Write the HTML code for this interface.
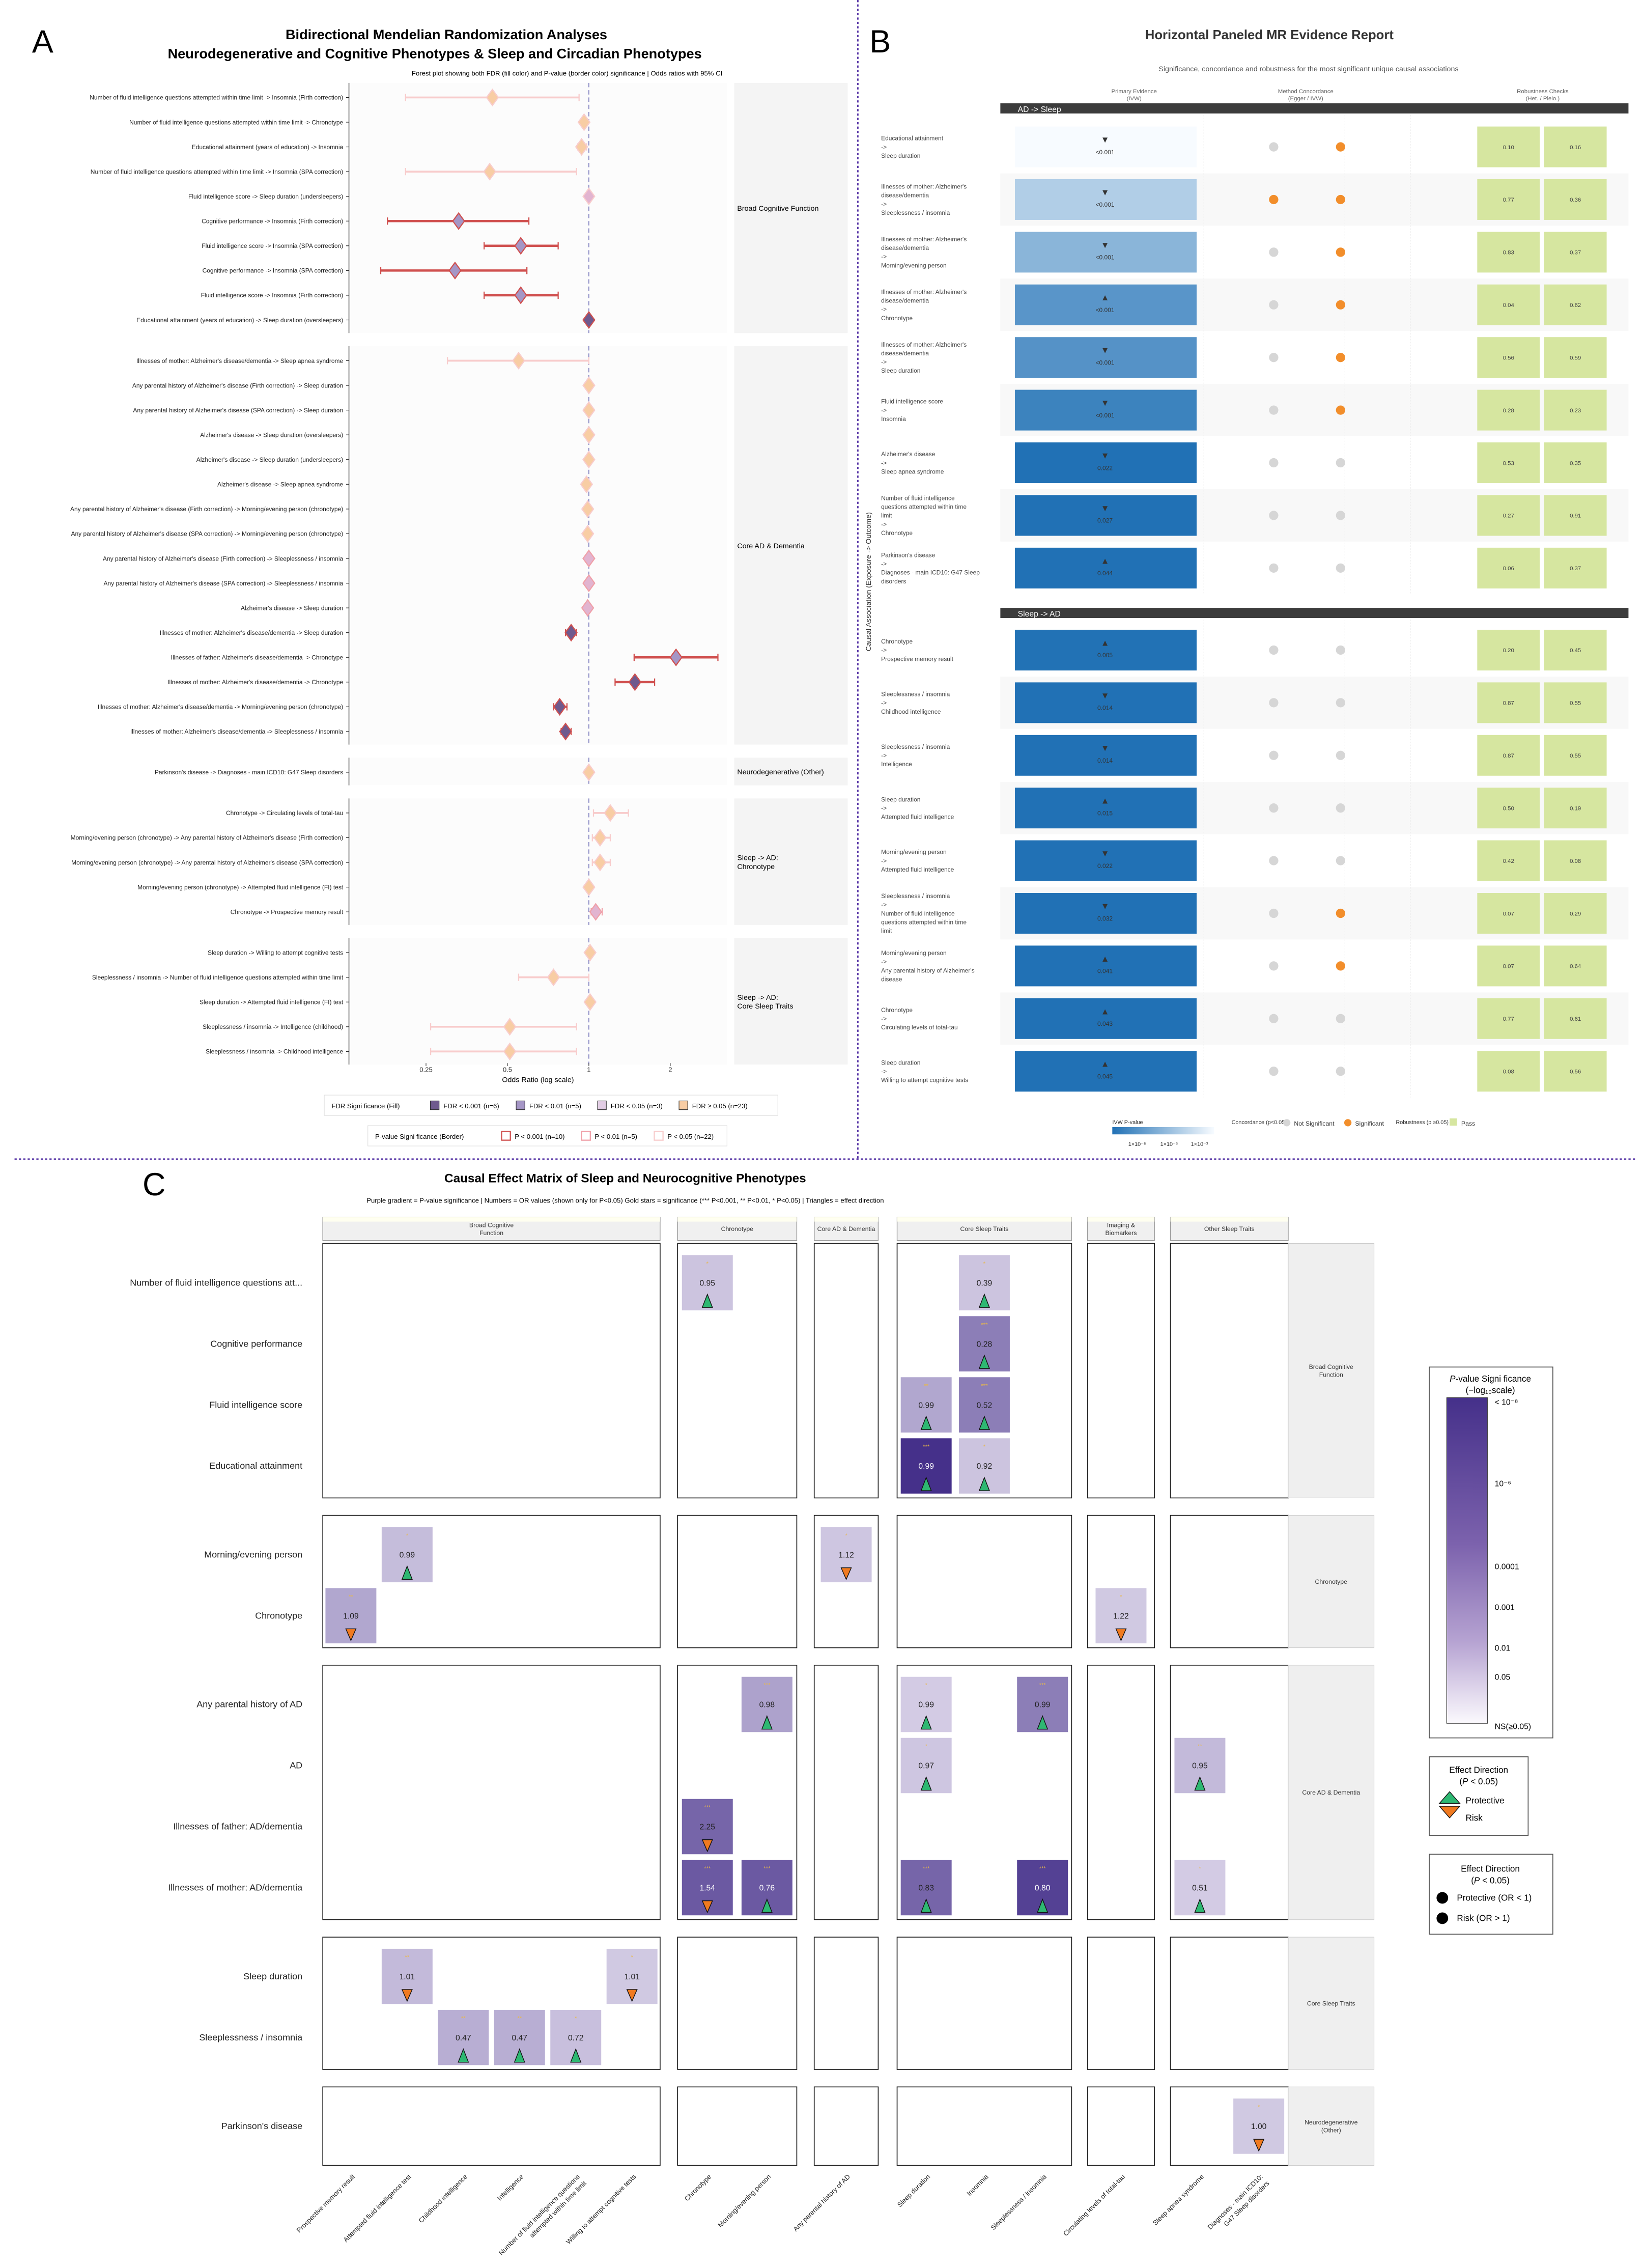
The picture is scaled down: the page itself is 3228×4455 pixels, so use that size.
<!DOCTYPE html>
<html><head><meta charset="utf-8">
<style>
html,body{margin:0;padding:0;background:#fff}
svg{display:block;font-family:"Liberation Sans",sans-serif}
</style></head>
<body>
<svg id="fig" width="3228" height="4455" viewBox="0 0 1130 1559.5" xmlns="http://www.w3.org/2000/svg">
<defs>
<linearGradient id="gradC" x1="0" y1="0" x2="0" y2="1"><stop offset="0" stop-color="#45308a"/><stop offset="0.45" stop-color="#7c62ad"/><stop offset="0.75" stop-color="#b6a3d2"/><stop offset="1" stop-color="#fbf9fd"/></linearGradient>
<linearGradient id="gradB" x1="0" y1="0" x2="1" y2="0"><stop offset="0" stop-color="#2171b5"/><stop offset="1" stop-color="#f7fbff"/></linearGradient>
<clipPath id="clipAD"><rect x="560" y="837" width="44" height="16"/></clipPath>
</defs>
<g id="panelA">
<text x="22" y="36" font-size="22">A</text>
<text x="307" y="27" font-size="9.5" font-weight="bold" text-anchor="middle">Bidirectional Mendelian Randomization Analyses</text>
<text x="299" y="40" font-size="9.5" font-weight="bold" text-anchor="middle">Neurodegenerative and Cognitive Phenotypes &amp; Sleep and Circadian Phenotypes</text>
<text x="390" y="52" font-size="4.6" text-anchor="middle">Forest plot showing both FDR (fill color) and P-value (border color) significance | Odds ratios with 95% CI</text>
<text x="370" y="744" font-size="5" text-anchor="middle">Odds Ratio (log scale)</text>
<g>
<rect x="223" y="753" width="312" height="14" fill="#fff" stroke="#ddd" stroke-width="0.4"/>
<text x="228" y="762" font-size="4.6">FDR Signi ficance (Fill)</text>
<rect x="296" y="757" width="6" height="6" fill="#6f5a8e" stroke="#333" stroke-width="0.4"/><text x="305" y="762" font-size="4.6">FDR &lt; 0.001 (n=6)</text>
<rect x="355" y="757" width="6" height="6" fill="#a596c6" stroke="#333" stroke-width="0.4"/><text x="364" y="762" font-size="4.6">FDR &lt; 0.01 (n=5)</text>
<rect x="411" y="757" width="6" height="6" fill="#e2cde4" stroke="#333" stroke-width="0.4"/><text x="420" y="762" font-size="4.6">FDR &lt; 0.05 (n=3)</text>
<rect x="467" y="757" width="6" height="6" fill="#f8cda4" stroke="#333" stroke-width="0.4"/><text x="476" y="762" font-size="4.6">FDR ≥ 0.05 (n=23)</text>
</g>
<g>
<rect x="253" y="774" width="247" height="14" fill="#fff" stroke="#ddd" stroke-width="0.4"/>
<text x="258" y="783" font-size="4.6">P-value Signi ficance (Border)</text>
<rect x="345" y="778" width="6" height="6" fill="#fff" stroke="#d0504f" stroke-width="0.8"/><text x="354" y="783" font-size="4.6">P &lt; 0.001 (n=10)</text>
<rect x="400" y="778" width="6" height="6" fill="#fff" stroke="#f0a0a8" stroke-width="0.8"/><text x="409" y="783" font-size="4.6">P &lt; 0.01 (n=5)</text>
<rect x="450" y="778" width="6" height="6" fill="#fff" stroke="#f8cccc" stroke-width="0.8"/><text x="459" y="783" font-size="4.6">P &lt; 0.05 (n=22)</text>
</g>
</g>
<line x1="590" y1="0" x2="590" y2="797" stroke="#5b3aa8" stroke-width="1" stroke-dasharray="1.5,1.5"/>
<line x1="10" y1="797" x2="1125" y2="797" stroke="#5b3aa8" stroke-width="1" stroke-dasharray="1.5,1.5"/>
<g id="panelB">
<text x="598" y="36" font-size="22">B</text>
<text x="873" y="27" font-size="9" font-weight="bold" text-anchor="middle" fill="#333">Horizontal Paneled MR Evidence Report</text>
<text x="900" y="49" font-size="5" text-anchor="middle" fill="#555">Significance, concordance and robustness for the most significant unique causal associations</text>
<text x="780" y="64" font-size="4" text-anchor="middle" fill="#666">Primary Evidence</text>
<text x="780" y="69" font-size="4" text-anchor="middle" fill="#666">(IVW)</text>
<text x="898" y="64" font-size="4" text-anchor="middle" fill="#666">Method Concordance</text>
<text x="898" y="69" font-size="4" text-anchor="middle" fill="#666">(Egger / IVW)</text>
<text x="1061" y="64" font-size="4" text-anchor="middle" fill="#666">Robustness Checks</text>
<text x="1061" y="69" font-size="4" text-anchor="middle" fill="#666">(Het. / Pleio.)</text>
<text transform="translate(599,400) rotate(-90)" font-size="5" text-anchor="middle" fill="#333">Causal Association (Exposure -&gt; Outcome)</text>
<g>
<text x="765" y="773" font-size="3.8" fill="#333">IVW P-value</text>
<rect x="765" y="775" width="70" height="5" fill="url(#gradB)"/>
<text x="776" y="788" font-size="3.8" fill="#333">1×10⁻⁸</text><text x="798" y="788" font-size="3.8" fill="#333">1×10⁻⁵</text><text x="819" y="788" font-size="3.8" fill="#333">1×10⁻³</text>
<text x="847" y="773" font-size="3.8" fill="#333">Concordance (p&lt;0.05)</text>
<circle cx="885" cy="772" r="2.5" fill="#d6d6d6"/><text x="890" y="774" font-size="4.3" fill="#333">Not Significant</text>
<circle cx="927" cy="772" r="2.5" fill="#f28e2b"/><text x="932" y="774" font-size="4.3" fill="#333">Significant</text>
<text x="960" y="773" font-size="3.8" fill="#333">Robustness (p ≥0.05)</text>
<rect x="997" y="769" width="5" height="5" fill="#d6e6a0"/><text x="1005" y="774" font-size="4.3" fill="#333">Pass</text>
</g>
</g>
<g id="panelC">
<text x="98" y="822" font-size="22">C</text>
<text x="430" y="813" font-size="8.5" font-weight="bold" text-anchor="middle">Causal Effect Matrix of Sleep and Neurocognitive Phenotypes</text>
<text x="430" y="827" font-size="4.6" text-anchor="middle">Purple gradient = P-value significance | Numbers = OR values (shown only for P&lt;0.05)   Gold stars = significance (*** P&lt;0.001, ** P&lt;0.01, * P&lt;0.05) | Triangles = effect direction</text>
<g>
<rect x="983" y="940" width="85" height="255" fill="#fff" stroke="#555" stroke-width="0.6"/>
<text x="1025" y="950" font-size="6" text-anchor="middle"><tspan font-style="italic">P</tspan>-value Signi ficance</text>
<text x="1025" y="958" font-size="6" text-anchor="middle">(−log₁₀scale)</text>
<rect x="995" y="961" width="28" height="224" fill="url(#gradC)" stroke="#333" stroke-width="0.4"/>
<text x="1028" y="966" font-size="5.5">&lt; 10⁻⁸</text>
<text x="1028" y="1022" font-size="5.5">10⁻⁶</text>
<text x="1028" y="1079" font-size="5.5">0.0001</text>
<text x="1028" y="1107" font-size="5.5">0.001</text>
<text x="1028" y="1135" font-size="5.5">0.01</text>
<text x="1028" y="1155" font-size="5.5">0.05</text>
<text x="1028" y="1189" font-size="5.5">NS(≥0.05)</text>
</g>
<g>
<rect x="983" y="1208" width="68" height="54" fill="#fff" stroke="#555" stroke-width="0.6"/>
<text x="1017" y="1219" font-size="6" text-anchor="middle">Effect Direction</text>
<text x="1017" y="1227" font-size="6" text-anchor="middle">(<tspan font-style="italic">P</tspan> &lt; 0.05)</text>
<polygon points="997,1232 1004,1240 990,1240" fill="#2eb872" stroke="#111" stroke-width="0.5"/>
<text x="1008" y="1240" font-size="6">Protective</text>
<polygon points="990,1242 1004,1242 997,1250" fill="#f07a20" stroke="#111" stroke-width="0.5"/>
<text x="1008" y="1252" font-size="6">Risk</text>
</g>
<g>
<rect x="983" y="1275" width="85" height="55" fill="#fff" stroke="#555" stroke-width="0.6"/>
<text x="1025" y="1287" font-size="6" text-anchor="middle">Effect Direction</text>
<text x="1025" y="1295" font-size="6" text-anchor="middle">(<tspan font-style="italic">P</tspan> &lt; 0.05)</text>
<circle cx="992" cy="1305" r="4" fill="#000"/><text x="1002" y="1307" font-size="6">Protective (OR &lt; 1)</text>
<circle cx="992" cy="1319" r="4" fill="#000"/><text x="1002" y="1321" font-size="6">Risk (OR &gt; 1)</text>
</g>
</g>
</svg>
<script>
const NS='http://www.w3.org/2000/svg';
const svg=document.getElementById('fig');
function mk(tag,attrs,parent,text){const e=document.createElementNS(NS,tag);for(const k in attrs)e.setAttribute(k,attrs[k]);if(text!==undefined)e.textContent=text;(parent||svg).appendChild(e);return e;}

/* ---------------- Panel A data ---------------- */
const aGroups=['Broad Cognitive Function','Core AD & Dementia','Neurodegenerative (Other)','Sleep -> AD:\nChronotype','Sleep -> AD:\nCore Sleep Traits'];
const aLabels=[
"Number of fluid intelligence questions attempted within time limit -> Insomnia (Firth correction)",
"Number of fluid intelligence questions attempted within time limit -> Chronotype",
"Educational attainment (years of education) -> Insomnia",
"Number of fluid intelligence questions attempted within time limit -> Insomnia (SPA correction)",
"Fluid intelligence score -> Sleep duration (undersleepers)",
"Cognitive performance -> Insomnia (Firth correction)",
"Fluid intelligence score -> Insomnia (SPA correction)",
"Cognitive performance -> Insomnia (SPA correction)",
"Fluid intelligence score -> Insomnia (Firth correction)",
"Educational attainment (years of education) -> Sleep duration (oversleepers)",
"Illnesses of mother: Alzheimer's disease/dementia -> Sleep apnea syndrome",
"Any parental history of Alzheimer's disease (Firth correction) -> Sleep duration",
"Any parental history of Alzheimer's disease (SPA correction) -> Sleep duration",
"Alzheimer's disease -> Sleep duration (oversleepers)",
"Alzheimer's disease -> Sleep duration (undersleepers)",
"Alzheimer's disease -> Sleep apnea syndrome",
"Any parental history of Alzheimer's disease (Firth correction) -> Morning/evening person (chronotype)",
"Any parental history of Alzheimer's disease (SPA correction) -> Morning/evening person (chronotype)",
"Any parental history of Alzheimer's disease (Firth correction) -> Sleeplessness / insomnia",
"Any parental history of Alzheimer's disease (SPA correction) -> Sleeplessness / insomnia",
"Alzheimer's disease -> Sleep duration",
"Illnesses of mother: Alzheimer's disease/dementia -> Sleep duration",
"Illnesses of father: Alzheimer's disease/dementia -> Chronotype",
"Illnesses of mother: Alzheimer's disease/dementia -> Chronotype",
"Illnesses of mother: Alzheimer's disease/dementia -> Morning/evening person (chronotype)",
"Illnesses of mother: Alzheimer's disease/dementia -> Sleeplessness / insomnia",
"Parkinson's disease -> Diagnoses - main ICD10: G47 Sleep disorders",
"Chronotype -> Circulating levels of total-tau",
"Morning/evening person (chronotype) -> Any parental history of Alzheimer's disease (Firth correction)",
"Morning/evening person (chronotype) -> Any parental history of Alzheimer's disease (SPA correction)",
"Morning/evening person (chronotype) -> Attempted fluid intelligence (FI) test",
"Chronotype -> Prospective memory result",
"Sleep duration -> Willing to attempt cognitive tests",
"Sleeplessness / insomnia -> Number of fluid intelligence questions attempted within time limit",
"Sleep duration -> Attempted fluid intelligence (FI) test",
"Sleeplessness / insomnia -> Intelligence (childhood)",
"Sleeplessness / insomnia -> Childhood intelligence"];
const aGroupIdx=[0,0,0,0,0,0,0,0,0,0, 1,1,1,1,1,1,1,1,1,1,1,1,1,1,1,1, 2, 3,3,3,3,3, 4,4,4,4,4];
const aOR=[0.44,0.96,0.94,0.43,1.0,0.33,0.56,0.32,0.56,1.0, 0.55,1.0,1.0,1.0,1.0,0.98,0.99,0.99,1.0,1.0,0.99,0.86,2.1,1.48,0.78,0.82, 1.0, 1.2,1.1,1.1,1.0,1.06, 1.01,0.74,1.01,0.51,0.51];
const aLo=[0.21,0.94,0.91,0.21,0.99,0.18,0.41,0.17,0.41,0.99, 0.3,0.99,0.99,0.99,0.99,0.96,0.98,0.98,0.99,0.99,0.98,0.82,1.47,1.25,0.74,0.79, 0.99, 1.04,1.03,1.03,0.99,1.02, 0.99,0.55,0.99,0.26,0.26];
const aHi=[0.92,0.98,0.98,0.9,1.01,0.6,0.77,0.59,0.77,1.01, 1.0,1.01,1.01,1.01,1.01,1.0,1.0,1.0,1.01,1.01,1.0,0.9,3.0,1.75,0.83,0.86, 1.01, 1.4,1.2,1.2,1.01,1.12, 1.03,1.0,1.03,0.9,0.9];
const aFdr=[3,3,3,3,2,1,1,1,1,0, 3,3,3,3,3,3,3,3,2,2,2,0,1,0,0,0, 3, 3,3,3,3,2, 3,3,3,3,3];
const aPcat=[2,2,2,2,2,0,0,0,0,0, 2,2,2,2,2,2,2,2,1,1,1,0,0,0,0,0, 2, 2,2,2,2,1, 2,2,2,2,2];
const aTicks=[0.25,0.5,1,2];
const fdrCols=['#6f5a8e','#a596c6','#e2b4d0','#f8cda4'];
const pCols=['#d0504f','#f0a0a8','#f8cccc'];
const xA=or=>405+56*Math.log2(or);

(function(){
  const gA=document.getElementById('panelA');
  let y=57;
  const rowY=[];
  aGroups.forEach((gname,g)=>{
    const idx=aGroupIdx.map((v,i)=>v===g?i:-1).filter(i=>i>=0);
    const top=y, first=top+10, last=first+(idx.length-1)*17, bottom=last+9;
    const bg=mk('rect',{x:241,y:top,width:259,height:bottom-top,fill:'#fcfcfc'},gA);
    
    
    const st=mk('rect',{x:505,y:top,width:78,height:bottom-top,fill:'#f4f4f4'},gA);
    
    
    const lines=gname.split('\n');
    lines.forEach((ln,k)=>{
      const t=mk('text',{x:507,y:(top+bottom)/2+2+(k-(lines.length-1)/2)*6,'font-size':5},gA,ln);
      
      
    });
    const ref=mk('line',{x1:xA(1),x2:xA(1),y1:top,y2:bottom,stroke:'#7f7fbf','stroke-width':0.6,'stroke-dasharray':'3,2'},gA);
    
    
    const ax=mk('line',{x1:240,x2:240,y1:top,y2:bottom,stroke:'#222','stroke-width':0.5},gA);
    
    
    idx.forEach((i,k)=>{rowY[i]=first+k*17;});
    y=bottom+9;
  });
  aLabels.forEach((lab,i)=>{
    const yy=rowY[i];
    const t=mk('text',{x:236,y:yy+1.5,'font-size':4.2,'text-anchor':'end',fill:'#222'},gA,lab);
    
    
    mk('line',{x1:238,x2:240,y1:yy,y2:yy,stroke:'#222','stroke-width':0.4},gA);
    const col=pCols[aPcat[i]];
    const ci=mk('line',{x1:xA(aLo[i]),x2:xA(aHi[i]),y1:yy,y2:yy,stroke:col,'stroke-width':aPcat[i]===0?1.6:1.3},gA);
    
    
    [aLo[i],aHi[i]].forEach(v=>mk('line',{x1:xA(v),x2:xA(v),y1:yy-2.5,y2:yy+2.5,stroke:col,'stroke-width':0.8},gA));
    const x=xA(aOR[i]);
    const d=mk('polygon',{points:`${x},${yy-5.5} ${x+4},${yy} ${x},${yy+5.5} ${x-4},${yy}`,fill:fdrCols[aFdr[i]],stroke:col,'stroke-width':0.8},gA);
    
    
  });
  aTicks.forEach(v=>{
    const t=mk('text',{x:xA(v),y:737,'font-size':4.6,'text-anchor':'middle',fill:'#333'},gA,String(v));
    
    
    mk('line',{x1:xA(v),x2:xA(v),y1:731,y2:733,stroke:'#333','stroke-width':0.4},gA);
  });
})();

/* ---------------- Panel B data ---------------- */
const bSections=['AD -> Sleep','Sleep -> AD'];
const bSection=[0,0,0,0,0,0,0,0,0, 1,1,1,1,1,1,1,1,1];
const bExp=["Educational attainment","Illnesses of mother: Alzheimer's disease/dementia","Illnesses of mother: Alzheimer's disease/dementia","Illnesses of mother: Alzheimer's disease/dementia","Illnesses of mother: Alzheimer's disease/dementia","Fluid intelligence score","Alzheimer's disease","Number of fluid intelligence questions attempted within time limit","Parkinson's disease",
"Chronotype","Sleeplessness / insomnia","Sleeplessness / insomnia","Sleep duration","Morning/evening person","Sleeplessness / insomnia","Morning/evening person","Chronotype","Sleep duration"];
const bOut=["Sleep duration","Sleeplessness / insomnia","Morning/evening person","Chronotype","Sleep duration","Insomnia","Sleep apnea syndrome","Chronotype","Diagnoses - main ICD10: G47 Sleep disorders",
"Prospective memory result","Childhood intelligence","Intelligence","Attempted fluid intelligence","Attempted fluid intelligence","Number of fluid intelligence questions attempted within time limit","Any parental history of Alzheimer's disease","Circulating levels of total-tau","Willing to attempt cognitive tests"];
const bDir=[-1,-1,-1,1,-1,-1,-1,-1,1, 1,-1,-1,1,-1,-1,1,1,1];
const bPval=[1e-26,1e-17,1e-13,1e-8,3.2e-8,1e-5,0.022,0.027,0.044, 0.005,0.014,0.014,0.015,0.022,0.032,0.041,0.043,0.045];
const bEgger=[0,1,0,0,0,0,0,0,0, 0,0,0,0,0,0,0,0,0];
const bIvw=[1,1,1,1,1,1,0,0,0, 0,0,0,0,0,1,1,0,0];
const bHet=[0.10,0.77,0.83,0.04,0.56,0.28,0.53,0.27,0.06, 0.20,0.87,0.87,0.50,0.42,0.07,0.07,0.77,0.08];
const bPleio=[0.16,0.36,0.37,0.62,0.59,0.23,0.35,0.91,0.37, 0.45,0.55,0.55,0.19,0.08,0.29,0.64,0.61,0.56];

function lerpCol(a,b,t){const pa=[1,3,5].map(i=>parseInt(a.substr(i,2),16)),pb=[1,3,5].map(i=>parseInt(b.substr(i,2),16));return 'rgb('+pa.map((v,i)=>Math.round(v+(pb[i]-v)*t)).join(',')+')';}
function wrap(s,n){const w=s.split(' ');const out=[];let cur='';w.forEach(x=>{if(cur&&(cur+' '+x).length>n){out.push(cur);cur=x;}else cur=cur?cur+' '+x:x;});if(cur)out.push(cur);return out;}

(function(){
  const gB=document.getElementById('panelB');
  const sepX=[828,925,970];
  bSections.forEach((sname,s)=>{
    const barY=s===0?71:418, y0=s===0?101:447;
    const idx=bSection.map((v,i)=>v===s?i:-1).filter(i=>i>=0);
    idx.forEach((i,k)=>{
      const cy=y0+k*36.2;
      if(k%2===1){const st=mk('rect',{x:688,y:cy-18,width:432,height:36,fill:'#f8f8f8'},gB);
        
        }
    });
    sepX.forEach(x=>mk('line',{x1:x,x2:x,y1:barY+8,y2:y0+(idx.length-1)*36.2+18,stroke:'#e8e8e8','stroke-width':0.4,'stroke-dasharray':'1,1'},gB));
    const bar=mk('rect',{x:688,y:barY,width:432,height:7,fill:'#3c3c3c'},gB);
    
    
    const bt=mk('text',{x:700,y:barY+6,'font-size':5.5,fill:'#fff'},gB,sname);
    
    
    idx.forEach((i,k)=>{
      const cy=y0+k*36.2;
      const lines=[...wrap(bExp[i],35),'->',...wrap(bOut[i],35)];
      lines.forEach((ln,j)=>{
        const t=mk('text',{x:606,y:cy+1.5+(j-(lines.length-1)/2)*6,'font-size':4.2,fill:'#444'},gB,ln);
        
        
      });
      const lp=-Math.log10(bPval[i]);
      const tt=Math.max(0,Math.min(1,(lp-2.2)/22));
      const box=mk('rect',{x:698,y:cy-14,width:125,height:28,fill:lerpCol('#2171b5','#f7fbff',tt)},gB);
      
      
      const tri=mk('text',{x:760,y:cy-3,'font-size':6,'text-anchor':'middle',fill:'#333'},gB,bDir[i]>0?'▲':'▼');
      
      
      const pt=mk('text',{x:760,y:cy+5,'font-size':4.2,'text-anchor':'middle',fill:'#333'},gB,bPval[i]<0.001?'<0.001':bPval[i].toFixed(3));
      
      
      const c1=mk('circle',{cx:876,cy:cy,r:3.2,fill:bEgger[i]?'#f28e2b':'#d6d6d6'},gB);
      
      
      const c2=mk('circle',{cx:922,cy:cy,r:3.2,fill:bIvw[i]?'#f28e2b':'#d6d6d6'},gB);
      
      
      [[1016,bHet[i],'heterogeneity-box'],[1062,bPleio[i],'pleiotropy-box']].forEach(([x,v,nm])=>{
        const r=mk('rect',{x:x,y:cy-14,width:43,height:28,fill:'#d6e6a0'},gB);
        
        
        const t=mk('text',{x:x+21.5,y:cy+1.5,'font-size':4,'text-anchor':'middle',fill:'#444'},gB,v.toFixed(2));
        
        
      });
    });
  });
})();

/* ---------------- Panel C data ---------------- */
const cRowGroups=['Broad Cognitive\nFunction','Chronotype','Core AD & Dementia','Core Sleep Traits','Neurodegenerative\n(Other)'];
const cRows=['Number of fluid intelligence questions att...','Cognitive performance','Fluid intelligence score','Educational attainment','Morning/evening person','Chronotype','Any parental history of AD','AD','Illnesses of father: AD/dementia','Illnesses of mother: AD/dementia','Sleep duration','Sleeplessness / insomnia',"Parkinson's disease"];
const cRowGroup=[0,0,0,0,1,1,2,2,2,2,3,3,4];
const cColGroups=['Broad Cognitive\nFunction','Chronotype','Core AD & Dementia','Core Sleep Traits','Imaging &\nBiomarkers','Other Sleep Traits'];
const cCols=['Prospective memory result','Attempted fluid intelligence  test','Childhood intelligence','Intelligence','Number of fluid intelligence questions\nattempted within time limit','Willing to attempt cognitive tests','Chronotype','Morning/evening person','Any parental history of AD','Sleep duration','Insomnia','Sleeplessness / insomnia','Circulating levels of total-tau','Sleep apnea syndrome','Diagnoses - main ICD10:\nG47 Sleep disorders'];
const cColGroup=[0,0,0,0,0,0,1,1,2,3,3,3,4,5,5];
const tRow=[0,0,1,2,2,3,3,4,4,5,5,6,6,6,7,7,8,9,9,9,9,9,10,10,11,11,11,12];
const tCol=[6,10,10,9,10,9,10,1,8,0,12,7,9,11,9,13,6,6,7,9,11,13,1,5,2,3,4,14];
const tOR=[0.95,0.39,0.28,0.99,0.52,0.99,0.92,0.99,1.12,1.09,1.22,0.98,0.99,0.99,0.97,0.95,2.25,1.54,0.76,0.83,0.80,0.51,1.01,1.01,0.47,0.47,0.72,1.00];
const tLogP=[1.6,1.6,4.5,2.8,4.5,8.5,1.6,1.9,1.5,2.8,1.4,3.0,1.3,4.5,1.5,2.0,5.5,6.0,6.0,5.5,7.0,1.3,2.0,1.4,2.5,2.5,1.8,1.4];

(function(){
  const gC=document.getElementById('panelC');
  const colBounds=[[222,454],[466,548],[560,604],[617,737],[748,794],[805,886]];
  const colX=cCols.map((c,i)=>{const g=cColGroup[i];const members=cColGroup.map((v,j)=>v===g?j:-1).filter(j=>j>=0);const k=members.indexOf(i);const [l,r]=colBounds[g];return l+(k+0.5)*(r-l)/members.length;});
  const rowY=[];const rowBounds=[];
  let top=855;
  cRowGroups.forEach((gname,g)=>{
    const members=cRowGroup.map((v,j)=>v===g?j:-1).filter(j=>j>=0);
    members.forEach((j,k)=>{rowY[j]=top+27+k*42;});
    const bottom=rowY[members[members.length-1]]+(members.length===1?27:22);
    rowBounds.push([top,bottom]);
    top=bottom+12;
  });
  cColGroups.forEach((gname,g)=>{
    const [l,r]=colBounds[g];
    const s=mk('rect',{x:l,y:837,width:r-l,height:16,fill:'#f0f0f0',stroke:'#999','stroke-width':0.5},gC);
    
    
    mk('rect',{x:l,y:837,width:r-l,height:3,fill:'#fffff0'},gC);
    const lines=gname.split('\n');
    lines.forEach((ln,k)=>{
      const t=mk('text',{x:(l+r)/2,y:846.5+(k-(lines.length-1)/2)*5.5,'font-size':4.3,'text-anchor':'middle',fill:'#333'},gC,ln);
      if(g===2)t.setAttribute('clip-path','url(#clipAD)');
      
      
    });
  });
  rowBounds.forEach(([t0,b0],g)=>{
    colBounds.forEach(([l,r])=>{
      const p=mk('rect',{x:l,y:t0,width:r-l,height:b0-t0,fill:'#fff',stroke:'#222','stroke-width':0.6},gC);
      
      
    });
    const s=mk('rect',{x:886,y:t0,width:59,height:b0-t0,fill:'#efefef',stroke:'#ccc','stroke-width':0.4},gC);
    
    
    const lines=cRowGroups[g].split('\n');
    lines.forEach((ln,k)=>{
      const t=mk('text',{x:915.5,y:(t0+b0)/2+1.5+(k-(lines.length-1)/2)*5.5,'font-size':4.3,'text-anchor':'middle',fill:'#333'},gC,ln);
      
      
    });
  });
  cRows.forEach((r,j)=>{
    const t=mk('text',{x:208,y:rowY[j]+2,'font-size':6.3,'text-anchor':'end',fill:'#222'},gC,r);
    
    
  });
  cCols.forEach((c,i)=>{
    const lines=c.split('\n');
    lines.forEach((ln,k)=>{
      const x=colX[i]+3+k*4.5, y=1497+k*4.5;
      const t=mk('text',{x:x,y:y,'font-size':4.6,'text-anchor':'end',fill:'#222',transform:`rotate(-45 ${x} ${y})`},gC,ln);
      
      
    });
  });
  tRow.forEach((r,k)=>{
    const x=colX[tCol[k]], y=rowY[r], v=tLogP[k];
    const t=Math.max(0,Math.min(1,0.2+(v-1.3)/8));
    const tile=mk('rect',{x:x-17.5,y:y-19,width:35,height:38,fill:lerpCol('#f6f2fa','#45308a',t)},gC);
    
    
    const stars=v>=3?'***':(v>=2?'**':'*');
    const st=mk('text',{x:x,y:y-12,'font-size':4,'text-anchor':'middle',fill:'#e8b84a'},gC,stars);
    
    
    const ot=mk('text',{x:x,y:y+2,'font-size':5.5,'text-anchor':'middle',fill:t>0.75?'#fff':'#222'},gC,tOR[k].toFixed(2));
    
    
    const prot=tOR[k]<1;
    const pts=prot?`${x},${y+8} ${x+3.5},${y+17} ${x-3.5},${y+17}`:`${x-3.5},${y+9} ${x+3.5},${y+9} ${x},${y+17}`;
    const tri=mk('polygon',{points:pts,fill:prot?'#2eb872':'#f07a20',stroke:'#111','stroke-width':0.5},gC);
    
    
  });
})();
</script>
</body></html>
